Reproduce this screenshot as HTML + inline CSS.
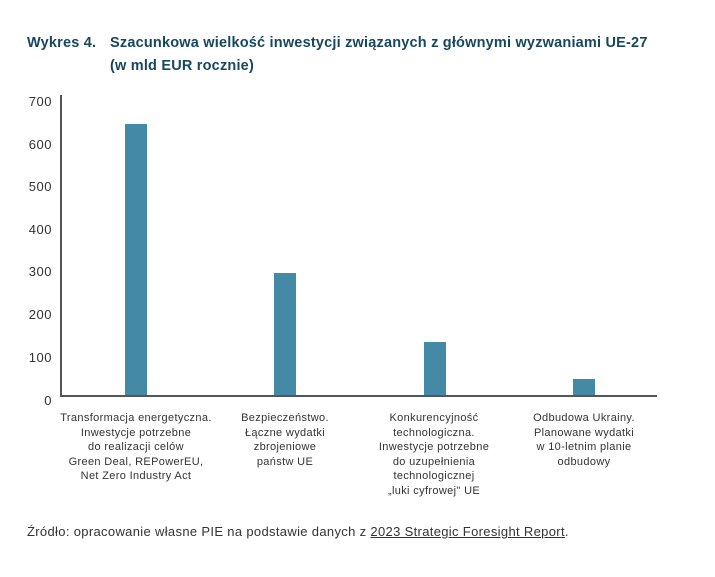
<!DOCTYPE html>
<html><head><meta charset="utf-8"><style>
body{margin:0;width:715px;height:577px;background:#fff;font-family:"Liberation Sans",sans-serif;position:relative;overflow:hidden}
.t{position:absolute;font-weight:bold;font-size:14.5px;color:#17475f;letter-spacing:0.2px}
.yl{position:absolute;right:663px;font-size:13px;color:#333;line-height:14px;letter-spacing:0.5px}
.bar{position:absolute;background:#448aa6;width:22px}
.cat{position:absolute;width:190px;text-align:center;font-size:11px;line-height:14.5px;color:#333;letter-spacing:0.35px}
</style></head><body>
<div class="t" style="left:27px;top:35px">Wykres 4.</div>
<div class="t" style="left:110px;top:35px">Szacunkowa wielkość inwestycji związanych z głównymi wyzwaniami UE-27</div>
<div class="t" style="left:110px;top:58px">(w mld EUR rocznie)</div>
<div class="yl" style="top:95px">700</div>
<div class="yl" style="top:138px">600</div>
<div class="yl" style="top:180px">500</div>
<div class="yl" style="top:223px">400</div>
<div class="yl" style="top:265px">300</div>
<div class="yl" style="top:308px">200</div>
<div class="yl" style="top:351px">100</div>
<div class="yl" style="top:394px">0</div>
<div style="position:absolute;left:60px;top:95px;width:1.5px;height:301px;background:#555"></div>
<div style="position:absolute;left:60px;top:395px;width:597px;height:1.5px;background:#555"></div>
<div class="bar" style="left:125px;top:124px;height:271px"></div>
<div class="bar" style="left:274px;top:273px;height:122px"></div>
<div class="bar" style="left:424px;top:342px;height:53px"></div>
<div class="bar" style="left:573px;top:379px;height:16px"></div>
<div class="cat" style="left:41px;top:411px">Transformacja energetyczna.<br>Inwestycje potrzebne<br>do realizacji celów<br>Green Deal, REPowerEU,<br>Net Zero Industry Act</div>
<div class="cat" style="left:190px;top:411px">Bezpieczeństwo.<br>Łączne wydatki<br>zbrojeniowe<br>państw UE</div>
<div class="cat" style="left:339px;top:411px">Konkurencyjność<br>technologiczna.<br>Inwestycje potrzebne<br>do uzupełnienia<br>technologicznej<br>„luki cyfrowej" UE</div>
<div class="cat" style="left:489px;top:411px">Odbudowa Ukrainy.<br>Planowane wydatki<br>w 10-letnim planie<br>odbudowy</div>
<div style="position:absolute;left:27px;top:524px;font-size:13px;color:#333;letter-spacing:0.33px">Źródło: opracowanie własne PIE na podstawie danych z <span style="text-decoration:underline">2023 Strategic Foresight Report</span>.</div>
</body></html>
